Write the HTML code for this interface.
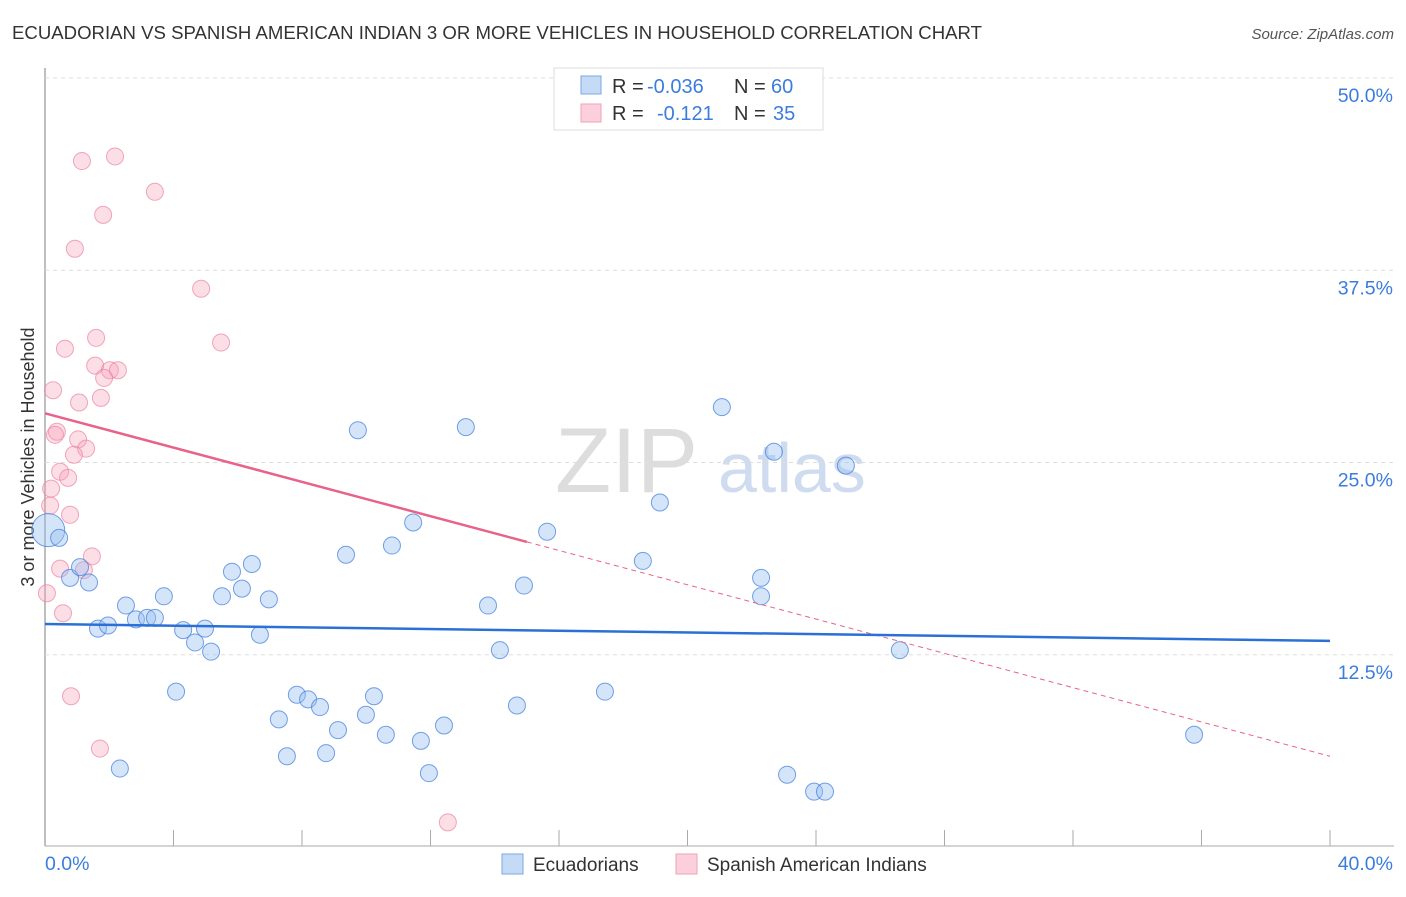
<!DOCTYPE html>
<html><head><meta charset="utf-8"><style>
body{margin:0;background:#fff;font-family:"Liberation Sans",sans-serif}
svg text{font-family:"Liberation Sans",sans-serif}
</style></head><body>
<svg id="c" width="1406" height="892" xmlns="http://www.w3.org/2000/svg">
<text x="12" y="39" font-size="18" fill="#333" textLength="970" lengthAdjust="spacingAndGlyphs">ECUADORIAN VS SPANISH AMERICAN INDIAN 3 OR MORE VEHICLES IN HOUSEHOLD CORRELATION CHART</text>
<text x="1394" y="39" font-size="15" fill="#555" font-style="italic" text-anchor="end">Source: ZipAtlas.com</text>
<text x="34" y="457" font-size="18" fill="#333" text-anchor="middle" transform="rotate(-90 34 457)">3 or more Vehicles in Household</text>
<text x="555" y="492" font-size="92" fill="#ddd" font-family="Liberation Serif">ZIP</text>
<text x="718" y="492" font-size="70" fill="#cfdcef">atlas</text>
<g id="grid"></g><g id="pts"></g><g id="lines"></g>
<g>
<rect x="554" y="68" width="269" height="62" fill="#fff" stroke="#ddd"/>
<rect x="581" y="76" width="20" height="18" fill="#c5daf5" stroke="#7aa7e6"/>
<rect x="581" y="104" width="20" height="18" fill="#fbd0dc" stroke="#f0a0b8"/>
<text x="612" y="93" font-size="20" fill="#333">R =</text>
<text x="647" y="93" font-size="20" fill="#3b7ddd">-0.036</text>
<text x="734" y="93" font-size="20" fill="#333">N =</text>
<text x="771" y="93" font-size="20" fill="#3b7ddd">60</text>
<text x="612" y="120" font-size="20" fill="#333">R =</text>
<text x="657" y="120" font-size="20" fill="#3b7ddd">-0.121</text>
<text x="734" y="120" font-size="20" fill="#333">N =</text>
<text x="773" y="120" font-size="20" fill="#3b7ddd">35</text>
</g>
<g>
<rect x="502" y="854" width="21" height="20" fill="#c5daf5" stroke="#7aa7e6"/>
<text x="533" y="871" font-size="19" fill="#333">Ecuadorians</text>
<rect x="676" y="854" width="21" height="20" fill="#fbd0dc" stroke="#f0a0b8"/>
<text x="707" y="871" font-size="19" fill="#333">Spanish American Indians</text>
</g>
</svg>
<script>
const yTicks=[12.5,25,37.5,50];
const xTickLabels=["0.0%","40.0%"];
const blueX=[0.1,0.44,0.78,1.37,1.09,1.65,1.96,2.52,2.83,3.18,3.42,3.70,4.08,4.30,4.67,4.98,5.17,5.51,5.82,6.13,6.44,6.69,6.97,2.33,7.28,7.53,7.84,8.19,8.56,8.75,9.12,9.37,9.74,9.99,10.24,10.61,10.80,11.46,11.70,11.95,12.42,13.10,13.79,14.16,14.69,14.91,15.63,17.43,18.61,19.14,21.07,22.29,22.29,22.69,23.10,23.94,24.28,24.93,26.61,35.77];
const blueY=[20.6,20.1,17.5,17.2,18.2,14.2,14.4,15.7,14.8,14.9,14.9,16.3,10.1,14.1,13.3,14.2,12.7,16.3,17.9,16.8,18.4,13.8,16.1,5.1,8.3,5.9,9.9,9.6,9.1,6.1,7.6,19.0,27.1,8.6,9.8,7.3,19.6,21.1,6.9,4.8,7.9,27.3,15.7,12.8,9.2,17.0,20.5,10.1,18.6,22.4,28.6,17.5,16.3,25.7,4.7,3.6,3.6,24.8,12.8,7.3];
const blueR=[18];
const pinkX=[1.15,2.18,3.42,1.81,0.93,4.86,5.48,1.59,0.62,1.56,2.02,2.27,1.84,0.25,1.74,1.06,0.37,0.31,1.03,1.28,0.9,0.47,0.72,0.19,0.16,0.78,1.46,0.47,1.21,0.06,0.56,0.81,1.71,12.54];
const pinkY=[44.6,44.9,42.6,41.1,38.9,36.3,32.8,33.1,32.4,31.3,31.0,31.0,30.5,29.7,29.2,28.9,27.0,26.8,26.5,25.9,25.5,24.4,24.0,23.3,22.2,21.6,18.9,18.1,18.0,16.5,15.2,9.8,6.4,1.6];
const blueTrend=[14.5,13.4];
const pinkTrend=[28.2,5.9];
const pinkSolidEnd=15.0;
const NS="http://www.w3.org/2000/svg";
const X=v=>45+v/40*1285, Y=v=>847-v/50*769;
function mk(tag,attrs,parent){const e=document.createElementNS(NS,tag);for(const k in attrs)e.setAttribute(k,attrs[k]);parent.appendChild(e);return e;}
const grid=document.getElementById('grid'),pts=document.getElementById('pts'),lines=document.getElementById('lines');
mk('line',{x1:45,y1:68,x2:45,y2:846,stroke:'#aaa','stroke-width':1.5},grid);
mk('line',{x1:45,y1:846,x2:1394,y2:846,stroke:'#aaa','stroke-width':1},grid);
for(let i=0;i<=10;i++){const t=mk('line',{x1:X(i*4),y1:830,x2:X(i*4),y2:846,stroke:'#aaa'},grid);}
yTicks.forEach(v=>{
 const g=mk('line',{x1:45,y1:Y(v),x2:1394,y2:Y(v),stroke:'#ddd','stroke-dasharray':'4 4'},grid);
 
 
 const t=mk('text',{x:1393,y:Y(v)+24,'font-size':19.5,fill:'#3b7ddd','text-anchor':'end'},grid);t.textContent=v.toFixed(1)+'%';
 
 
});
const xl0=mk('text',{x:45,y:870,'font-size':19.5,fill:'#3b7ddd'},grid);xl0.textContent=xTickLabels[0];

const xl1=mk('text',{x:1393,y:870,'font-size':19.5,fill:'#3b7ddd','text-anchor':'end'},grid);xl1.textContent=xTickLabels[1];

pinkX.forEach((v,i)=>{const c=mk('circle',{cx:X(v),cy:Y(pinkY[i]),r:8.5,fill:'rgba(245,160,185,0.35)',stroke:'rgba(235,130,160,0.7)'},pts);

});
blueX.forEach((v,i)=>{const c=mk('circle',{cx:X(v),cy:Y(blueY[i]),r:(blueR[i]||10)-1.5,fill:'rgba(150,190,240,0.4)',stroke:'rgba(70,130,220,0.75)'},pts);

});
const pAt=x=>pinkTrend[0]+(pinkTrend[1]-pinkTrend[0])*x/40;
const ps=mk('line',{x1:X(0),y1:Y(pAt(0)),x2:X(pinkSolidEnd),y2:Y(pAt(pinkSolidEnd)),stroke:'#e8628a','stroke-width':2.5},lines);

const pd=mk('line',{x1:X(pinkSolidEnd),y1:Y(pAt(pinkSolidEnd)),x2:X(40),y2:Y(pAt(40)),stroke:'#e8628a','stroke-width':1,'stroke-dasharray':'5 4'},lines);

const bl=mk('line',{x1:X(0),y1:Y(blueTrend[0]),x2:X(40),y2:Y(blueTrend[1]),stroke:'#2b70d6','stroke-width':2.5},lines);

</script>
</body></html>
